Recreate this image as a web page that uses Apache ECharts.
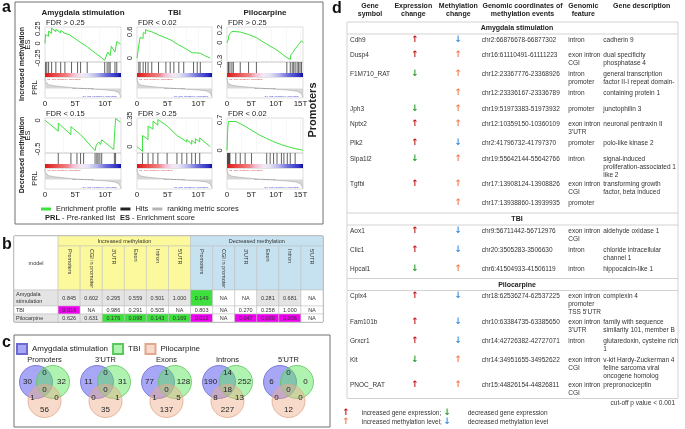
<!DOCTYPE html>
<html>
<head>
<meta charset="utf-8">
<title>Methylation enrichment</title>
<script src="https://cdn.jsdelivr.net/npm/echarts@6.0.0/dist/echarts.min.js"></script>
<style>
  html, body { margin: 0; padding: 0; background: #fff; }
  #chart { width: 685px; height: 429px; }
</style>
</head>
<body>
<div id="chart"></div>
<script>
var FONT = "'Liberation Sans', Arial, sans-serif";

// ---------------- panel a: GSEA running enrichment scores ----------------
var modelNames = ['Amygdala stimulation', 'TBI', 'Pilocarpine'];
var directionNames = ['Increased methylation', 'Decreased methylation'];
var fdrLabels = [
  ['FDR > 0.25', 'FDR < 0.02', 'FDR > 0.25'],
  ['FDR < 0.15', 'FDR > 0.25', 'FDR < 0.02']
];
var listLength = [12.6, 12.2, 15.5];   // ranked list size, thousands of genes
var rankTicks = [0, 5, 10, 15];
var esTicks = [
  [[-0.25, 0, 0.25], [0, 0.6], [-0.3, 0, 0.2]],
  [[-0.5, 0], [0, 0.35], [0, 0.7]]
];

// [rank (thousands), enrichment score]
var esAmyInc = [[0,0],[0.1,0.15],[0.6,0.12],[0.6,0.21],[1.1,0.17],[1.1,0.26],[1.8,0.2],[1.8,0.24],[2.6,0.18],[2.6,0.22],[3.3,0.17],[3.3,0.2],[4.0,0.15],[5.4,0.05],[5.4,0.06],[7.0,-0.06],[9.9,-0.29],[10.2,-0.31],[10.4,-0.15],[10.8,-0.21],[11.0,-0.05],[11.6,-0.15],[11.9,0.03],[12.5,-0.01]];
var esTbiInc = [[0,0],[0.2,0.02],[0.3,0.3],[0.5,0.28],[0.5,0.47],[1.0,0.45],[1.0,0.58],[1.4,0.56],[1.4,0.65],[1.8,0.62],[1.8,0.64],[2.4,0.6],[2.4,0.62],[3.5,0.53],[3.5,0.55],[4.7,0.46],[5.4,0.42],[6.0,0.37],[6.8,0.3],[7.6,0.24],[9.0,0.12],[9.2,0.16],[9.7,0.12],[9.8,0.15],[10.3,0.11],[10.3,0.13],[11.1,0.05],[11.9,0.0]];
var esPiloInc = [[0,0],[0.3,0.06],[0.3,0.1],[0.6,0.09],[0.6,0.14],[1.0,0.13],[1.0,0.18],[1.3,0.17],[1.3,0.21],[2.7,0.17],[2.7,0.18],[4.4,0.13],[6.0,0.08],[8.0,-0.02],[10.0,-0.11],[12.2,-0.24],[12.9,-0.27],[13.0,-0.2],[13.3,-0.23],[13.4,-0.16],[13.7,-0.18],[13.9,-0.1],[14.3,-0.07],[14.6,-0.03],[14.9,0.0],[15.2,0.03],[15.5,0.0]];
var esAmyDec = [[0,0],[2.2,-0.19],[2.2,-0.05],[4.3,-0.25],[4.3,-0.11],[5.3,-0.2],[5.9,-0.25],[8.3,-0.53],[8.5,-0.43],[8.7,-0.46],[8.9,-0.38],[9.2,-0.42],[9.4,-0.34],[11.4,-0.51],[11.5,-0.3],[11.7,0.03],[12.5,-0.03]];
var esTbiDec = [[0,0],[0.9,-0.06],[0.9,0.14],[1.8,0.09],[1.8,0.26],[2.6,0.22],[2.6,0.32],[3.4,0.27],[3.4,0.34],[4.9,0.26],[6.5,0.14],[6.5,0.16],[7.3,0.1],[7.3,0.12],[8.1,0.06],[8.1,0.09],[8.9,0.03],[8.9,0.08],[9.5,0.04],[9.5,0.1],[10.2,0.06],[10.2,0.11],[11.9,0.0]];
var esPiloDec = [[0,0],[0.1,0.36],[0.2,0.56],[0.3,0.66],[0.6,0.7],[1.8,0.66],[2.7,0.61],[3.7,0.55],[5.0,0.46],[6.5,0.36],[8.1,0.27],[9.5,0.2],[11.1,0.13],[12.3,0.09],[13.9,0.04],[15.0,0.02],[15.5,0.0]];

// hit positions (thousands)
var hitsAmyInc = [0.1,0.3,0.6,1.1,1.8,2.6,3.3,4.4,5.4,5.9,7.0,9.9,10.3,10.6,10.8,11.6,11.9];
var hitsTbiInc = [0.3,0.5,1.0,1.4,1.8,2.4,3.5,4.7,5.4,6.0,6.8,7.6,9.2,9.8,10.3];
var hitsPiloInc = [0.2,0.3,0.6,1.0,1.3,2.7,4.4,6.0,12.2,12.9,13.3,13.6,13.9,14.3,14.6,14.9,15.2];
var hitsAmyDec = [2.2,4.3,5.3,5.9,6.4,8.3,8.6,8.8,9.1,9.4,11.5,11.7];
var hitsTbiDec = [0.9,1.8,2.6,3.4,4.9,6.5,7.3,8.1,8.9,9.5,10.2];
var hitsPiloDec = [0.1,0.2,0.3,0.4,0.5,0.6,1.8,2.7,3.7,5.0,8.1,8.8,9.5,10.2,11.1,11.6,12.3,12.9,13.9];

// ranking metric scores of the pre-ranked list, one per model
var prlAmygdala = [[0,4],[0.05,2.6],[0.2,1.9],[0.6,1.4],[1.5,1.0],[3,0.6],[4.5,0.3],[6,0.05],[6.3,0],[8,-0.25],[10,-0.5],[11.5,-0.9],[12.2,-1.5],[12.5,-2.6],[12.6,-3.2]];
var prlTbi = [[0,4],[0.05,2.8],[0.2,2.0],[0.6,1.3],[1.5,0.9],[3,0.55],[5,0.2],[6.1,0],[8,-0.3],[10,-0.55],[11.3,-0.9],[11.9,-1.6],[12.2,-3]];
var prlPilo = [[0,4],[0.05,3],[0.3,1.8],[1,1.2],[2.5,0.8],[4.5,0.45],[6.5,0.15],[7.7,0],[10,-0.3],[12.5,-0.6],[14.3,-1],[15.1,-1.8],[15.5,-3.2]];

var esData = [[esAmyInc, esTbiInc, esPiloInc], [esAmyDec, esTbiDec, esPiloDec]];
var hitData = [[hitsAmyInc, hitsTbiInc, hitsPiloInc], [hitsAmyDec, hitsTbiDec, hitsPiloDec]];
var prlData = [prlAmygdala, prlTbi, prlPilo];

// ---------------- panel b: FDR table ----------------
var bGroups = ['Increased methylation', 'Decreased methylation'];
var bFeatures = ['Promoters', 'CGI in promoter', "3'UTR", 'Exon', 'Intron', "5'UTR"];
var bModels = ['Amygdala\nstimulation', 'TBI', 'Pilocarpine'];
var bAmygdala = ['0.845','0.602','0.295','0.559','0.501','1.000','0.149','NA','NA','0.281','0.681','NA'];
var bTbi = ['0.014','NA','0.986','0.291','0.505','NA','0.803','NA','0.270','0.258','1.000','NA'];
var bPilo = ['0.626','0.631','0.176','0.098','0.143','0.169','0.012','NA','0.047','0.000','0.006','NA'];

// ---------------- panel c: Venn counts ----------------
var vennGroups = ['Promoters', "3'UTR", 'Exons', 'Introns', "5'UTR"];
var vennSets = ['Amygdala stimulation', 'TBI', 'Pilocarpine'];
var vennAOnly = [30, 11, 77, 190, 6];
var vennAT = [0, 0, 1, 14, 0];
var vennTOnly = [32, 31, 128, 252, 0];
var vennAP = [1, 0, 1, 8, 0];
var vennATP = [0, 0, 0, 18, 0];
var vennTP = [0, 1, 5, 13, 0];
var vennPOnly = [56, 35, 137, 227, 12];

// ---------------- panel d: gene table ----------------
var dHeaders = ['Gene\nsymbol', 'Expression\nchange', 'Methylation\nchange', 'Genomic coordinates of\nmethylation events', 'Genomic\nfeature', 'Gene description'];
var dSections = ['Amygdala stimulation', 'TBI', 'Pilocarpine'];
var dAmygdala = [
  ['Cdh9', 'up', 'down', 'chr2:66876678-66877302', 'intron', 'cadherin 9'],
  ['Dusp4', 'up', 'up', 'chr16:61110491-61111223', 'exon intron\nCGI', 'dual specificity\nphosphatase 4'],
  ['F1M710_RAT', 'down', 'up', 'chr12:23367776-23368926', 'intron\npromoter', 'general transcription\nfactor II-I repeat domain-'],
  ['', '', 'up', 'chr12:23336167-23336789', 'intron', 'containing protein 1'],
  ['Jph3', 'down', 'up', 'chr19:51973383-51973932', 'promoter', 'junctophilin 3'],
  ['Nptx2', 'up', 'up', 'chr12:10359150-10360109', "exon intron\n3'UTR", 'neuronal pentraxin II'],
  ['Plk2', 'up', 'down', 'chr2:41796732-41797370', 'promoter', 'polo-like kinase 2'],
  ['Sipa1l2', 'down', 'up', 'chr19:55642144-55642766', 'intron', 'signal-induced\nproliferation-associated 1\nlike 2'],
  ['Tgfbi', 'up', 'up', 'chr17:13908124-13908826', 'exon intron\nCGI', 'transforming growth\nfactor, beta induced'],
  ['', '', 'up', 'chr17:13938860-13939935', 'promoter', '']
];
var dTbi = [
  ['Aox1', 'up', 'down', 'chr9:56711442-56712976', 'exon intron\nCGI', 'aldehyde oxidase 1'],
  ['Clic1', 'up', 'down', 'chr20:3505283-3506630', 'intron', 'chloride intracellular\nchannel 1'],
  ['Hpcal1', 'down', 'up', 'chr6:41504933-41506119', 'intron', 'hippocalcin-like 1']
];
var dPilo = [
  ['Cplx4', 'up', 'down', 'chr18:62536274-62537225', "exon intron\npromoter\nTSS 5'UTR", 'complexin 4'],
  ['Fam101b', 'up', 'down', 'chr10:63384735-63385650', "exon intron\n3'UTR", 'family with sequence\nsimilarity 101, member B'],
  ['Grxcr1', 'up', 'down', 'chr14:42726382-42727071', 'intron', 'glutaredoxin, cysteine rich\n1'],
  ['Kit', 'down', 'up', 'chr14:34951655-34952622', 'exon intron\nCGI', 'v-kit Hardy-Zuckerman 4\nfeline sarcoma viral\noncogene homolog'],
  ['PNOC_RAT', 'up', 'up', 'chr15:44826154-44826811', 'exon intron\nCGI', 'prepronociceptin']
];
var dRows = [dAmygdala, dTbi, dPilo];

// ======================= layout =======================
var grids = [], xAxes = [], yAxes = [], series = [], graphic = [];

function txt(x, y, text, style, rotation) {
  var s = Object.assign({ text: text, fontFamily: FONT, fontSize: 7.5, fill: '#222', align: 'left', verticalAlign: 'middle' }, style || {});
  graphic.push({ type: 'text', x: x, y: y, rotation: rotation || 0, silent: true, style: s });
}

// ----- panel a -----
var colLeft = [45, 137, 227], colWidth = [76, 75, 76], rowTop = [27, 118];
var ES_H = 35, HIT_H = 15, PRL_H = 21, GRAD_H = 4;
var esRange = [[[-0.32, 0.28], [-0.09, 0.71], [-0.31, 0.25]], [[-0.57, 0.04], [-0.08, 0.36], [-0.06, 0.74]]];
var frame = { show: true, borderColor: '#c8c8c8', borderWidth: 0.6, backgroundColor: 'transparent' };

function hiddenX(gi, len) {
  return { type: 'value', gridIndex: gi, min: 0, max: len, show: false };
}

for (var r = 0; r < 2; r++) {
  for (var c = 0; c < 3; c++) {
    var gi = grids.length, len = listLength[c];
    var cellTop = rowTop[r];
    grids.push(Object.assign({ left: colLeft[c], top: cellTop, width: colWidth[c], height: ES_H }, frame));
    grids.push(Object.assign({ left: colLeft[c], top: cellTop + ES_H, width: colWidth[c], height: HIT_H }, frame));
    grids.push(Object.assign({ left: colLeft[c], top: cellTop + ES_H + HIT_H, width: colWidth[c], height: PRL_H }, frame));

    xAxes.push({
      type: 'value', gridIndex: gi, min: 0, max: len,
      axisLine: { show: false }, axisTick: { show: false }, axisLabel: { show: false },
      splitLine: { show: true, lineStyle: { color: '#f0f0f0', width: 0.5 } }
    });
    xAxes.push(hiddenX(gi + 1, len));
    xAxes.push({
      type: 'value', gridIndex: gi + 2, min: 0, max: len,
      axisLine: { show: false }, axisTick: { show: false }, splitLine: { show: false },
      axisLabel: {
        customValues: rankTicks.filter(function (t) { return t <= len; }),
        formatter: function (v) { return v === 0 ? '0' : v + 'T'; },
        fontFamily: FONT, fontSize: 8, color: '#222', margin: 2
      }
    });

    yAxes.push({
      type: 'value', gridIndex: gi, min: esRange[r][c][0], max: esRange[r][c][1],
      name: c === 0 ? 'ES' : '', nameLocation: 'middle', nameGap: 13,
      nameTextStyle: { fontFamily: FONT, fontSize: 7.5, color: '#222' },
      axisLine: { show: false }, axisTick: { show: false }, splitLine: { show: false },
      axisLabel: {
        rotate: 90, customValues: esTicks[r][c], margin: 3,
        formatter: function (v) { return String(v); },
        fontFamily: FONT, fontSize: 7.5, color: '#222'
      }
    });
    yAxes.push({ type: 'value', gridIndex: gi + 1, min: 0, max: HIT_H, show: false });
    yAxes.push({
      type: 'value', gridIndex: gi + 2, min: -3.5, max: 4.2,
      name: c === 0 ? 'PRL' : '', nameLocation: 'middle', nameGap: 6,
      nameTextStyle: { fontFamily: FONT, fontSize: 7.5, color: '#222' },
      axisLine: { show: false }, axisTick: { show: false }, splitLine: { show: false },
      axisLabel: { show: false }
    });

    series.push({
      type: 'line', name: 'Enrichment profile', xAxisIndex: gi, yAxisIndex: gi,
      data: esData[r][c], showSymbol: false, silent: true,
      color: '#3ee03e', itemStyle: { color: '#3ee03e' }, lineStyle: { color: '#3ee03e', width: 1 }
    });
    series.push({
      type: 'custom', name: 'Hits', xAxisIndex: gi + 1, yAxisIndex: gi + 1, silent: true,
      itemStyle: { color: '#222' },
      data: hitData[r][c].map(function (h) { return [h, HIT_H]; }),
      encode: { x: 0, y: 1 },
      renderItem: function (params, api) {
        var p0 = api.coord([api.value(0), GRAD_H]);
        var p1 = api.coord([api.value(0), HIT_H]);
        return { type: 'line', shape: { x1: p0[0], y1: p0[1], x2: p1[0], y2: p1[1] }, style: { stroke: '#3a3a3a', lineWidth: 0.8 } };
      }
    });
    series.push({
      type: 'custom', name: 'rank gradient', xAxisIndex: gi + 1, yAxisIndex: gi + 1, silent: true,
      data: [[0, 0, len, GRAD_H]], encode: { x: [0, 2], y: [1, 3] },
      renderItem: function (params, api) {
        var p0 = api.coord([api.value(0), api.value(3)]);
        var p1 = api.coord([api.value(2), api.value(1)]);
        return {
          type: 'rect', shape: { x: p0[0], y: p0[1], width: p1[0] - p0[0], height: p1[1] - p0[1] },
          style: {
            fill: new echarts.graphic.LinearGradient(0, 0, 1, 0, [
              { offset: 0, color: '#d81818' }, { offset: 0.12, color: '#e84646' },
              { offset: 0.3, color: '#f08686' }, { offset: 0.37, color: '#f2bcd2' },
              { offset: 0.48, color: '#f4e8f2' }, { offset: 0.56, color: '#e4e4f6' },
              { offset: 0.68, color: '#b6b6ee' }, { offset: 0.8, color: '#6e6edc' },
              { offset: 0.95, color: '#3030c4' }, { offset: 1, color: '#10109a' }
            ])
          }
        };
      }
    });
    series.push({
      type: 'line', name: 'ranking metric scores', xAxisIndex: gi + 2, yAxisIndex: gi + 2,
      data: prlData[c], showSymbol: false, silent: true,
      color: '#b4b4b4', itemStyle: { color: '#b4b4b4' },
      lineStyle: { color: '#9a9a9a', width: 0.5 }, areaStyle: { color: '#c6c6c6', origin: 0 }
    });

    // FDR label and tiny annotation texts of the GSEA plot
    txt(colLeft[c] + 1, cellTop - 4, fdrLabels[r][c], { fontSize: 7.5 });
    var pt = cellTop + ES_H + HIT_H;
    txt(colLeft[c] + 2, pt + 2, "'na_pos' (positively correlated)", { fontSize: 2.5, fill: '#d03030' });
    txt(colLeft[c] + colWidth[c] * 0.5, pt + 11, 'Zero cross at 6178', { fontSize: 2.5, fill: '#444', align: 'center' });
    txt(colLeft[c] + colWidth[c] * 0.72, pt + 19, "'na_neg' (negatively correlated)", { fontSize: 2.5, fill: '#3030d0', align: 'center' });
  }
}

modelNames.forEach(function (m, ci) {
  txt(colLeft[ci] + colWidth[ci] / 2, 13, m, { fontSize: 8, fontWeight: 'bold', align: 'center' });
});
directionNames.forEach(function (d, ri) {
  txt(22, rowTop[ri] + 37, d, { fontSize: 7, fontWeight: 'bold', align: 'center' }, Math.PI / 2);
});
txt(313, 110, 'Promoters', { fontSize: 11, fontWeight: 'bold', align: 'center' }, Math.PI / 2);
graphic.push({ type: 'rect', silent: true, shape: { x: 15, y: 2, width: 308, height: 222 }, style: { fill: 'none', stroke: '#707070', lineWidth: 1 } });
graphic.push({
  type: 'text', x: 45, y: 218, silent: true,
  style: {
    text: '{b|PRL} - Pre-ranked list', fontFamily: FONT, fontSize: 7.5, fill: '#222', verticalAlign: 'middle',
    rich: { b: { fontWeight: 'bold', fontFamily: FONT, fontSize: 7.5 } }
  }
});
graphic.push({
  type: 'text', x: 120, y: 218, silent: true,
  style: {
    text: '{b|ES} - Enrichment score', fontFamily: FONT, fontSize: 7.5, fill: '#222', verticalAlign: 'middle',
    rich: { b: { fontWeight: 'bold', fontFamily: FONT, fontSize: 7.5 } }
  }
});

// ----- panel b -----
var B_ROWS = [0, 10, 54, 70, 78, 86];
var B_FILL = ['#fbf99c', '#c6e2f1'];
var bCells = [];
bCells.push({ x0: 0, x1: 2, y0: B_ROWS[0], y1: B_ROWS[2], text: 'model', fill: '#fff' });
bGroups.forEach(function (g, gIdx) {
  bCells.push({ x0: 2 + gIdx * 6, x1: 8 + gIdx * 6, y0: B_ROWS[0], y1: B_ROWS[1], text: g, fill: B_FILL[gIdx] });
  bFeatures.forEach(function (f, fi) {
    bCells.push({ x0: 2 + gIdx * 6 + fi, x1: 3 + gIdx * 6 + fi, y0: B_ROWS[1], y1: B_ROWS[2], text: f, fill: B_FILL[gIdx], vertical: true });
  });
});
[bAmygdala, bTbi, bPilo].forEach(function (vals, ri) {
  var shade = ri !== 1;
  bCells.push({ x0: 0, x1: 2, y0: B_ROWS[2 + ri], y1: B_ROWS[3 + ri], text: bModels[ri], fill: shade ? '#e4e4e4' : '#fff', left: true });
  vals.forEach(function (v, ci) {
    var num = parseFloat(v);
    var fill = isNaN(num) ? '#fff' : num < 0.05 ? '#f000f0' : num < 0.25 ? '#3ee03e' : shade ? '#e4e4e4' : '#fff';
    bCells.push({ x0: 2 + ci, x1: 3 + ci, y0: B_ROWS[2 + ri], y1: B_ROWS[3 + ri], text: v, fill: fill });
  });
});
var gB = grids.length;
grids.push({ left: 14, top: 236, width: 309, height: 86 });
xAxes.push({ type: 'value', gridIndex: gB, min: 0, max: 14, show: false });
yAxes.push({ type: 'value', gridIndex: gB, min: 0, max: 86, inverse: true, show: false });
series.push({
  type: 'custom', name: 'fdr table', xAxisIndex: gB, yAxisIndex: gB, silent: true,
  data: bCells.map(function (cl) { return [cl.x0, cl.y0, cl.x1, cl.y1]; }),
  encode: { x: [0, 2], y: [1, 3] },
  renderItem: function (params, api) {
    var cell = bCells[params.dataIndex];
    var p0 = api.coord([api.value(0), api.value(1)]);
    var p1 = api.coord([api.value(2), api.value(3)]);
    var w = p1[0] - p0[0], h = p1[1] - p0[1];
    var t = { type: 'text', style: { text: cell.text, fontFamily: FONT, fontSize: 5.5, fill: '#333', lineHeight: 6.5, verticalAlign: 'middle' } };
    if (cell.vertical) {
      t.x = p0[0] + w / 2; t.y = p0[1] + 3; t.rotation = -Math.PI / 2; t.style.align = 'left';
    } else if (cell.left) {
      t.x = p0[0] + 2; t.y = p0[1] + h / 2; t.style.align = 'left';
    } else {
      t.x = p0[0] + w / 2; t.y = p0[1] + h / 2; t.style.align = 'center';
    }
    return {
      type: 'group', children: [
        { type: 'rect', shape: { x: p0[0], y: p0[1], width: w, height: h }, style: { fill: cell.fill, stroke: '#bdbdbd', lineWidth: 0.5 } },
        t
      ]
    };
  }
});
graphic.push({ type: 'rect', silent: true, shape: { x: 14, y: 236, width: 309, height: 86 }, style: { fill: 'none', stroke: '#666', lineWidth: 0.8 } });

// ----- panel c -----
var gC = grids.length;
var VENN_R = 16.5, VENN_DX = [-8.5, 8.5, 0], VENN_CY = [16, 16, 35];
var VENN_FILL = ['rgba(80,80,235,0.5)', 'rgba(90,230,90,0.48)', 'rgba(240,172,140,0.45)'];
var VENN_STROKE = ['#6a6ad2', '#5cc85c', '#e0a88e'];
grids.push({ left: 14, top: 366, width: 305, height: 50 });
xAxes.push({
  type: 'category', gridIndex: gC, data: vennGroups, position: 'top',
  axisLine: { show: false }, axisTick: { show: false },
  axisLabel: { fontFamily: FONT, fontSize: 7.5, color: '#222', margin: 2 }
});
yAxes.push({ type: 'value', gridIndex: gC, min: 0, max: 50, inverse: true, show: false });
vennSets.forEach(function (name, si) {
  series.push({
    type: 'custom', name: name, xAxisIndex: gC, yAxisIndex: gC, silent: true,
    itemStyle: { color: VENN_FILL[si], borderColor: VENN_STROKE[si], borderWidth: 0.8 },
    data: vennGroups.map(function (g, i) { return [i, VENN_CY[si]]; }),
    encode: { x: 0, y: 1 },
    renderItem: function (params, api) {
      var p = api.coord([api.value(0), api.value(1)]);
      return { type: 'circle', shape: { cx: p[0] + VENN_DX[si], cy: p[1], r: VENN_R }, style: { fill: VENN_FILL[si], stroke: VENN_STROKE[si], lineWidth: 0.8 } };
    }
  });
});
// label offsets of the seven Venn regions (px from group centre / grid top)
var vennRegions = [
  { v: vennAOnly, dx: -17, y: 16 }, { v: vennAT, dx: 0, y: 7 }, { v: vennTOnly, dx: 17, y: 16 },
  { v: vennAP, dx: -12, y: 32 }, { v: vennATP, dx: 0, y: 24 }, { v: vennTP, dx: 12, y: 32 },
  { v: vennPOnly, dx: 0, y: 44 }
];
series.push({
  type: 'custom', name: 'venn counts', xAxisIndex: gC, yAxisIndex: gC, silent: true,
  data: vennGroups.map(function (g, i) { return [i, 0]; }), encode: { x: 0, y: 1 },
  renderItem: function (params, api) {
    var gIdx = api.value(0);
    return {
      type: 'group', children: vennRegions.map(function (reg) {
        var p = api.coord([gIdx, reg.y]);
        return { type: 'text', x: p[0] + reg.dx, y: p[1], style: { text: String(reg.v[gIdx]), fontFamily: FONT, fontSize: 8, fill: '#222', align: 'center', verticalAlign: 'middle' } };
      })
    };
  }
});
graphic.push({ type: 'rect', silent: true, shape: { x: 14, y: 335, width: 316, height: 92 }, style: { fill: 'none', stroke: '#707070', lineWidth: 1 } });

// ----- panel d -----
var D_LEFT = 340;
var D_COL = [10, 75, 118.3, 141.7, 228.3, 263.3];
var D_HEAD_X = [30, 73.3, 118.3, 182.5, 243.3, 301.7];
var D_ROW_H = [0, 15.5, 19, 25.5];
var D_SEC_H = 12, D_L = 7, D_R = 338;
var ARROW = {
  expr: { up: ['\u2191', '#c01818'], down: ['\u2193', '#2e9e2e'] },
  meth: { up: ['\u2191', '#f47c50'], down: ['\u2193', '#3d8fdc'] }
};
var dTexts = [], dLines = [];
dHeaders.forEach(function (h, i) {
  dTexts.push({ x: D_HEAD_X[i], y: 1.5, text: h, bold: true, align: 'center', size: 7, lh: 8.5 });
});
var yc = 22;
dSections.forEach(function (sec, si) {
  dLines.push([D_L, yc, D_R, yc]);
  dTexts.push({ x: 177, y: yc + 2.5, text: sec, bold: true, align: 'center', size: 7 });
  yc += D_SEC_H;
  dLines.push([D_L, yc, D_R, yc]);
  dRows[si].forEach(function (row) {
    var lines = Math.max.apply(null, row.map(function (s) { return s.split('\n').length; }));
    dTexts.push({ x: D_COL[0], y: yc + 2, text: row[0] });
    if (row[1]) dTexts.push({ x: D_COL[1], y: yc + 1, text: ARROW.expr[row[1]][0], color: ARROW.expr[row[1]][1], arrow: true });
    if (row[2]) dTexts.push({ x: D_COL[2], y: yc + 1, text: ARROW.meth[row[2]][0], color: ARROW.meth[row[2]][1], arrow: true });
    dTexts.push({ x: D_COL[3], y: yc + 2, text: row[3] });
    dTexts.push({ x: D_COL[4], y: yc + 2, text: row[4] });
    dTexts.push({ x: D_COL[5], y: yc + 2, text: row[5] });
    yc += D_ROW_H[lines];
  });
});
dLines.push([D_L, yc, D_R, yc]);
dLines.push([D_L, 22, D_L, yc]);
dLines.push([D_R, 22, D_R, yc]);
dTexts.push({ x: 335, y: 399.5, text: 'cut-off p value < 0.001', align: 'right' });
var legendRows = [['expr', 'increased gene expression;', 'decreased gene expression'], ['meth', 'increased methylation level;', 'decreased methylation level']];
legendRows.forEach(function (lr, i) {
  var ly = 409 + i * 9.5;
  dTexts.push({ x: 6, y: ly - 1, text: ARROW[lr[0]].up[0], color: ARROW[lr[0]].up[1], arrow: true });
  dTexts.push({ x: 21.7, y: ly, text: lr[1] });
  dTexts.push({ x: 107.3, y: ly - 1, text: ARROW[lr[0]].down[0], color: ARROW[lr[0]].down[1], arrow: true });
  dTexts.push({ x: 127.7, y: ly, text: lr[2] });
});

var gD = grids.length;
grids.push({ left: D_LEFT, top: 0, width: 345, height: 429 });
xAxes.push({ type: 'value', gridIndex: gD, min: 0, max: 345, show: false });
yAxes.push({ type: 'value', gridIndex: gD, min: 0, max: 429, inverse: true, show: false });
series.push({
  type: 'custom', name: 'gene table lines', xAxisIndex: gD, yAxisIndex: gD, silent: true,
  data: dLines, encode: { x: [0, 2], y: [1, 3] },
  renderItem: function (params, api) {
    var p0 = api.coord([api.value(0), api.value(1)]);
    var p1 = api.coord([api.value(2), api.value(3)]);
    return { type: 'line', shape: { x1: p0[0], y1: p0[1], x2: p1[0], y2: p1[1] }, style: { stroke: '#c8c8c8', lineWidth: 0.8 } };
  }
});
series.push({
  type: 'custom', name: 'gene table', xAxisIndex: gD, yAxisIndex: gD, silent: true,
  data: dTexts.map(function (t) { return [t.x, t.y]; }), encode: { x: 0, y: 1 },
  renderItem: function (params, api) {
    var t = dTexts[params.dataIndex];
    var p = api.coord([api.value(0), api.value(1)]);
    return {
      type: 'text', x: p[0], y: p[1],
      style: {
        text: t.text,
        fontFamily: t.arrow ? "'DejaVu Sans', sans-serif" : FONT,
        fontSize: t.arrow ? 9 : (t.size || 6.5),
        fontWeight: t.bold || t.arrow ? 'bold' : 'normal',
        fill: t.color || (t.bold ? '#222' : '#333'),
        align: t.arrow ? 'center' : (t.align || 'left'),
        verticalAlign: 'top',
        lineHeight: t.arrow ? 9 : (t.lh || 8)
      }
    };
  }
});

// panel letters
txt(2, 8, 'a', { fontSize: 16, fontWeight: 'bold', fill: '#111' });
txt(2, 245, 'b', { fontSize: 16, fontWeight: 'bold', fill: '#111' });
txt(2, 343, 'c', { fontSize: 16, fontWeight: 'bold', fill: '#111' });
txt(332, 9, 'd', { fontSize: 16, fontWeight: 'bold', fill: '#111' });

var chart = echarts.init(document.getElementById('chart'));
chart.setOption({
  animation: false,
  backgroundColor: '#fff',
  textStyle: { fontFamily: FONT },
  grid: grids,
  xAxis: xAxes,
  yAxis: yAxes,
  legend: [
    {
      data: ['Enrichment profile', 'Hits', 'ranking metric scores'],
      left: 41, top: 205, padding: 0, icon: 'rect', itemWidth: 10, itemHeight: 3, itemGap: 4,
      selectedMode: false, textStyle: { fontFamily: FONT, fontSize: 7.5, color: '#222' }
    },
    {
      data: vennSets, left: 16, top: 343, padding: 0, icon: 'rect', itemWidth: 10, itemHeight: 10, itemGap: 4,
      selectedMode: false, textStyle: { fontFamily: FONT, fontSize: 8, color: '#222' }
    }
  ],
  series: series,
  graphic: graphic
});
</script>
</body>
</html>
